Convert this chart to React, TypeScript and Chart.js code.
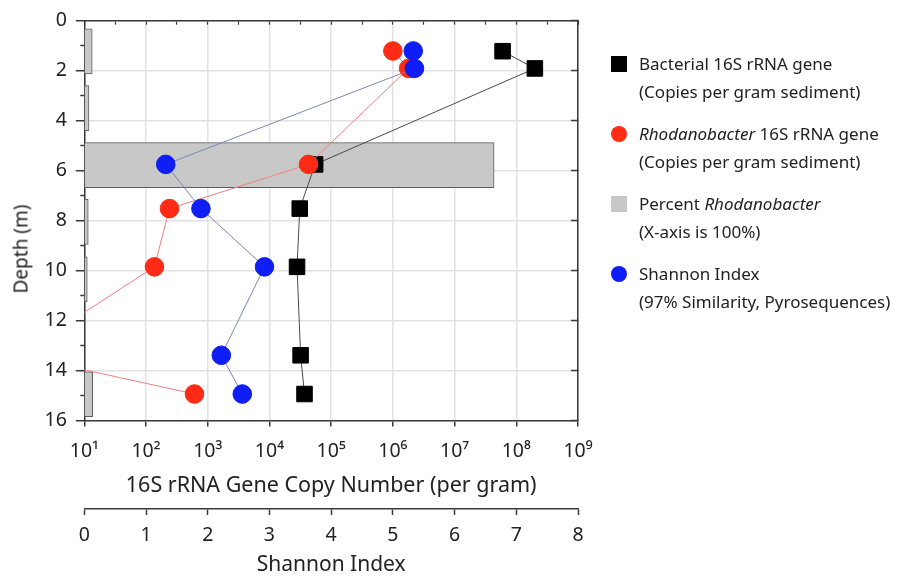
import React, { useEffect, useRef } from 'react';
import { Chart, registerables } from 'chart.js';

Chart.register(...registerables);

// ---- Data ----
const sampleDepths = [1.22, 1.91, 5.75, 7.52, 9.85, 13.39, 14.94];
const bacterialCopies = [6.0e7, 2.0e8, 5.5e4, 3.1e4, 2.8e4, 3.2e4, 3.7e4];
const rhodanoDepths = [1.21, 1.91, 5.75, 7.52, 9.85, 13.39, 14.94];
const rhodanoCopies = [1.0e6, 1.8e6, 4.3e4, 240, 137, 0.85, 610];
const shannonDepths = [1.21, 1.91, 5.75, 7.52, 9.85, 13.39, 14.94];
const shannonValues = [5.33, 5.35, 1.32, 1.89, 2.92, 2.22, 2.56];
const percentDepths = [1.23, 3.5, 5.78, 8.05, 10.35, 14.95];
const percentRhodano = [1.6, 0.95, 83, 0.8, 0.6, 1.7];

const copyTicks = [1e1, 1e2, 1e3, 1e4, 1e5, 1e6, 1e7, 1e8, 1e9];
const copyTickLabels = ['10¹', '10²', '10³', '10⁴', '10⁵', '10⁶', '10⁷', '10⁸', '10⁹'];
const topMinorTicks = [1e1, 31.62, 1e2, 316.2, 1e3, 3162, 1e4, 31623, 1e5, 316228, 1e6, 3.162e6, 1e7, 3.162e7, 1e8, 3.162e8, 1e9];
const depthTicks = [0, 2, 4, 6, 8, 10, 12, 14, 16];
const depthMinorTicks = [1, 3, 5, 7, 9, 11, 13, 15];
const shannonTicks = [0, 1, 2, 3, 4, 5, 6, 7, 8];

// ---- Styles ----
const FONT = "'Noto Sans', 'DejaVu Sans', sans-serif";
const TEXT = '#222222';
const AXIS = '#3a3a3a';
const GRID = '#e2e2e2';
const BLACK = '#000000';
const RED = '#ff2b14';
const BLUE = '#0f1ef5';
const GRAY = '#c8c8c8';
const BLACK_LINE = '#4a4a4a';
const RED_LINE = '#f08080';
const BLUE_LINE = '#7d86b5';

const legendItems = [
  { shape: 'square', color: BLACK, line1: [{ t: 'Bacterial 16S rRNA gene', i: false }], line2: '(Copies per gram sediment)' },
  { shape: 'circle', color: RED, line1: [{ t: 'Rhodanobacter', i: true }, { t: ' 16S rRNA gene', i: false }], line2: '(Copies per gram sediment)' },
  { shape: 'square', color: GRAY, line1: [{ t: 'Percent ', i: false }, { t: 'Rhodanobacter', i: true }], line2: '(X-axis is 100%)' },
  { shape: 'circle', color: BLUE, line1: [{ t: 'Shannon Index', i: false }], line2: '(97% Similarity, Pyrosequences)' },
];

export default function App() {
  const canvasRef = useRef<HTMLCanvasElement>(null);

  useEffect(() => {
    document.body.style.margin = '0';
    const canvas = canvasRef.current;
    if (!canvas) return;

    const chart = new Chart(canvas, {
      type: 'scatter',
      data: {
        datasets: [
          {
            label: 'Shannon Index',
            data: shannonValues.map((v, i) => ({ x: v, y: shannonDepths[i] })),
            xAxisID: 'xS',
            yAxisID: 'y',
            showLine: true,
            borderColor: BLUE_LINE,
            borderWidth: 1,
            pointStyle: 'circle',
            pointRadius: 9.3,
            pointHoverRadius: 9.3,
            pointBackgroundColor: BLUE,
            pointBorderColor: BLUE,
            pointBorderWidth: 1,
            order: 0,
          } as any,
          {
            label: 'Rhodanobacter 16S rRNA gene',
            data: rhodanoCopies.map((v, i) => ({ x: v, y: rhodanoDepths[i] })),
            xAxisID: 'x',
            yAxisID: 'y',
            showLine: true,
            clip: 0,
            borderColor: RED_LINE,
            borderWidth: 1,
            pointStyle: 'circle',
            pointRadius: 9.3,
            pointHoverRadius: 9.3,
            pointBackgroundColor: RED,
            pointBorderColor: RED,
            pointBorderWidth: 1,
            order: 1,
          } as any,
          {
            label: 'Bacterial 16S rRNA gene',
            data: bacterialCopies.map((v, i) => ({ x: v, y: sampleDepths[i] })),
            xAxisID: 'x',
            yAxisID: 'y',
            showLine: true,
            borderColor: BLACK_LINE,
            borderWidth: 1,
            pointStyle: 'rect',
            pointRadius: 11,
            pointHoverRadius: 11,
            pointBackgroundColor: BLACK,
            pointBorderColor: BLACK,
            pointBorderWidth: 1,
            order: 2,
          } as any,
          {
            type: 'bar',
            label: 'Percent Rhodanobacter',
            indexAxis: 'y',
            data: percentRhodano.map((v, i) => ({ x: v, y: percentDepths[i] })),
            xAxisID: 'xPct',
            yAxisID: 'y',
            backgroundColor: GRAY,
            borderColor: '#5e5e5e',
            borderWidth: 1,
            borderSkipped: false,
            grouped: false,
            barThickness: 45,
            order: 3,
          } as any,
        ],
      },
      options: {
        responsive: false,
        animation: false,
        events: [],
        layout: { padding: { left: 0, right: 320, top: 20.5, bottom: 0 } },
        plugins: {
          legend: { display: false },
          tooltip: { enabled: false },
        },
        scales: {
          x: {
            type: 'logarithmic',
            position: 'bottom',
            weight: 0,
            min: 1e1,
            max: 1e9,
            afterBuildTicks: (s: any) => {
              s.ticks = copyTicks.map((v) => ({ value: v }));
            },
            afterFit: (s: any) => {
              s.height = 88.5;
            },
            ticks: {
              autoSkip: false,
              maxRotation: 0,
              padding: 13,
              color: TEXT,
              font: { family: FONT, size: 19.5 },
              callback: (v: any) => {
                const idx = copyTicks.indexOf(Number(v));
                return idx >= 0 ? copyTickLabels[idx] : '';
              },
            },
            grid: { color: GRID, lineWidth: 1.5, tickLength: 6, tickColor: AXIS, tickWidth: 1.5 },
            border: { color: AXIS, width: 1.5 },
            title: {
              display: true,
              text: '16S rRNA Gene Copy Number (per gram)',
              color: TEXT,
              font: { family: FONT, size: 21.5 },
              padding: { top: 0, bottom: 10 },
            },
          },
          xS: {
            type: 'linear',
            position: 'bottom',
            weight: 10,
            min: 0,
            max: 8,
            afterBuildTicks: (s: any) => {
              s.ticks = shannonTicks.map((v) => ({ value: v }));
            },
            afterFit: (s: any) => {
              s.height = 69;
            },
            ticks: { autoSkip: false, maxRotation: 0, padding: 8.6, color: TEXT, font: { family: FONT, size: 19.5 } },
            grid: { drawOnChartArea: false, tickLength: 6, tickColor: AXIS, tickWidth: 1.5 },
            border: { color: AXIS, width: 1.5 },
            title: {
              display: true,
              text: 'Shannon Index',
              color: TEXT,
              font: { family: FONT, size: 21 },
              padding: { top: 0, bottom: 0 },
            },
          },
          xT: {
            type: 'logarithmic',
            position: 'top',
            min: 1e1,
            max: 1e9,
            afterBuildTicks: (s: any) => {
              s.ticks = topMinorTicks.map((v) => ({ value: v }));
            },
            afterFit: (s: any) => {
              s.height = 0;
            },
            ticks: { display: false },
            grid: { drawOnChartArea: false, tickLength: -4, tickColor: AXIS, tickWidth: 1.2 },
            border: { color: AXIS, width: 1.5 },
          },
          xPct: {
            type: 'linear',
            display: false,
            min: 0,
            max: 100,
          },
          y: {
            type: 'linear',
            position: 'left',
            weight: 5,
            reverse: true,
            min: 0,
            max: 16,
            offset: false,
            afterBuildTicks: (s: any) => {
              s.ticks = depthTicks.map((v) => ({ value: v }));
            },
            afterFit: (s: any) => {
              s.width = 84.3;
            },
            ticks: {
              autoSkip: false,
              padding: 9,
              color: TEXT,
              font: { family: FONT, size: 19.5 },
            },
            grid: {
              offset: false,
              lineWidth: 1.5,
              tickLength: 8.5,
              tickColor: AXIS,
              tickWidth: 1.5,
              color: GRID,
            },
            border: { color: AXIS, width: 1.5 },
          },
          yMinor: {
            type: 'linear',
            position: 'left',
            weight: 0,
            reverse: true,
            min: 0,
            max: 16,
            afterBuildTicks: (s: any) => {
              s.ticks = depthMinorTicks.map((v) => ({ value: v }));
            },
            afterFit: (s: any) => {
              s.width = 0;
            },
            ticks: { display: false },
            grid: { drawOnChartArea: false, tickLength: 4, tickColor: AXIS, tickWidth: 1.5 },
            border: { display: false },
          },
          yR: {
            type: 'linear',
            position: 'right',
            reverse: true,
            min: 0,
            max: 16,
            afterBuildTicks: (s: any) => {
              s.ticks = depthTicks.map((v) => ({ value: v }));
            },
            afterFit: (s: any) => {
              s.width = 0;
            },
            ticks: { display: false },
            grid: { drawOnChartArea: false, tickLength: -7, tickColor: AXIS, tickWidth: 1.5 },
            border: { color: AXIS, width: 1.5 },
          },
        },
      } as any,
    });

    return () => chart.destroy();
  }, []);

  return (
    <div style={{ position: 'relative', width: 898, height: 578, overflow: 'hidden', background: '#fff' }}>
      <canvas ref={canvasRef} width={898} height={578} style={{ display: 'block', width: 898, height: 578 }} />
      <div
        style={{
          position: 'absolute',
          left: 21,
          top: 249,
          transform: 'translate(-50%, -50%) rotate(-90deg)',
          fontFamily: FONT,
          fontSize: 19,
          color: TEXT,
          whiteSpace: 'nowrap',
          lineHeight: 1,
        }}
      >
        Depth (m)
      </div>
      <div style={{ position: 'absolute', left: 610, top: 50, fontFamily: FONT, color: TEXT }}>
        {legendItems.map((it, k) => (
          <div key={k} style={{ position: 'relative', height: 55, marginBottom: 15 }}>
            <div
              style={{
                position: 'absolute',
                left: 0.5,
                top: 6,
                width: 16,
                height: 16,
                background: it.color,
                borderRadius: it.shape === 'circle' ? '50%' : 0,
              }}
            />
            <div style={{ position: 'absolute', left: 29, top: 0, fontSize: 17, lineHeight: '27.5px', whiteSpace: 'nowrap' }}>
              <div>
                {it.line1.map((p, j) => (
                  <span key={j} style={{ fontStyle: p.i ? 'italic' : 'normal' }}>
                    {p.t}
                  </span>
                ))}
              </div>
              <div>{it.line2}</div>
            </div>
          </div>
        ))}
      </div>
    </div>
  );
}
